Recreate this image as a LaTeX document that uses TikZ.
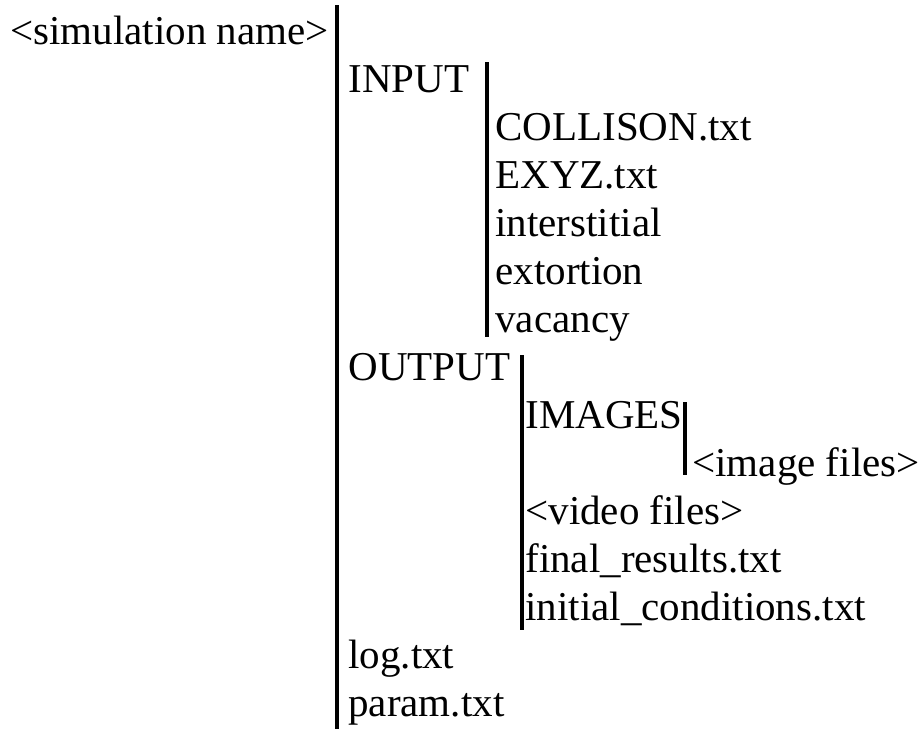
\documentclass[tikz,border=0pt]{standalone}
\usepackage{fontspec}
\setmainfont{Liberation Serif}
\usepackage{tikz}
\usetikzlibrary{positioning}

\begin{document}
\begin{tikzpicture}[x=0.5pt, y=-0.5pt, node distance=24pt,
    entry/.style={anchor=base west, inner sep=0pt, font=\fontsize{20.5}{24}\selectfont},
    bar/.style={line width=2pt}]
    \useasboundingbox (0,0) rectangle (922,729);
    % entries
    \node (sim) [entry] at (10,44) {<simulation name>};
    \node (input) [entry] at (348,92) {INPUT};
    \node (collison) [entry] at (495,140) {COLLISON.txt};
    \node (exyz) [below=of collison.base west, entry] {EXYZ.txt};
    \node (interstitial) [below=of exyz.base west, entry] {interstitial};
    \node (extortion) [below=of interstitial.base west, entry] {extortion};
    \node (vacancy) [below=of extortion.base west, entry] {vacancy};
    \node (output) [entry] at (348,380) {OUTPUT};
    \node (images) [entry] at (525,428) {IMAGES};
    \node (imgfiles) [entry] at (692,476) {<image files>};
    \node (video) [entry] at (525,524) {<video files>};
    \node (final) [below=of video.base west, entry] {final\_results.txt};
    \node (initial) [below=of final.base west, entry] {initial\_conditions.txt};
    \node (log) [entry] at (348,668) {log.txt};
    \node (param) [below=of log.base west, entry] {param.txt};
    % bars
    \coordinate (simtop) at (337,5);
    \coordinate (simbot) at (337,729);
    \coordinate (inputtop) at (487,62);
    \coordinate (inputbot) at (487,337);
    \coordinate (outputtop) at (522,355);
    \coordinate (outputbot) at (522,630);
    \coordinate (imagestop) at (685,402);
    \coordinate (imagesbot) at (685,475);
    \draw[bar] (simtop) -- (simbot);
    \draw[bar] (inputtop) -- (inputbot);
    \draw[bar] (outputtop) -- (outputbot);
    \draw[bar] (imagestop) -- (imagesbot);
\end{tikzpicture}
\end{document}
